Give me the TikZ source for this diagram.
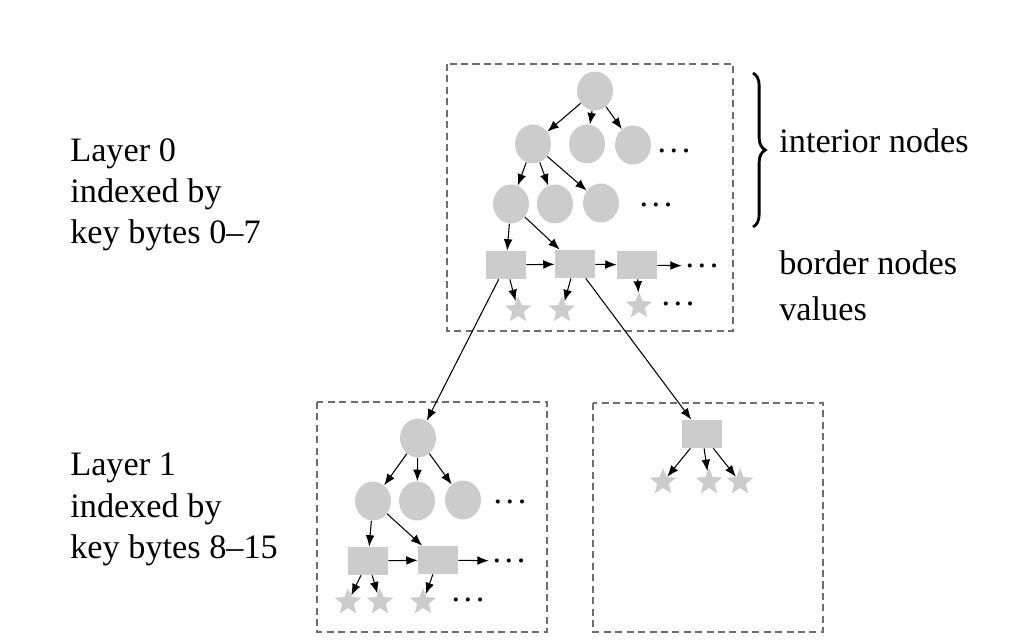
\documentclass[tikz,border=0pt]{standalone}
\usepackage{fontspec}
\setmainfont{Liberation Serif}
\usepackage{tikz}
\usetikzlibrary{arrows.meta, decorations.pathreplacing, shapes.geometric}
\definecolor{cnode}{HTML}{CCCCCC}
\definecolor{cframe}{HTML}{6E6E6E}

\begin{document}
\begin{tikzpicture}[
  x=0.02cm, y=-0.02cm,
  inode/.style={
    ellipse, fill=cnode, draw=none,
    minimum width=0.72cm, minimum height=0.78cm, inner sep=0pt
  },
  bnode/.style={
    rectangle, fill=cnode, draw=none,
    minimum width=0.8cm, minimum height=0.56cm, inner sep=0pt
  },
  vnode/.style={
    star, star points=5, star point ratio=2.3, fill=cnode, draw=none,
    minimum size=0.56cm, inner sep=0pt
  },
  dots/.style={inner sep=2pt},
  arr/.style={-{Latex[length=6.5pt, width=5pt]}, line width=0.6pt},
  layerbox/.style={dashed, draw=cframe, line width=0.6pt, dash pattern=on 4pt off 2.5pt},
  cbrace/.style={decorate, decoration={brace, amplitude=7pt}, line width=1.6pt},
  font=\fontsize{19.5}{23.4}\selectfont
]
\useasboundingbox (0,0) rectangle (1022,641);

\newcommand{\ddd}{.\kern2pt.\kern2pt.}

% ============================================================
% Layer 0: interior nodes, border nodes and values
\draw[layerbox] (447,64) rectangle (733,331);

\node[inode] (r0) at (595,91) {};
\node[inode] (a1) at (533,144) {};
\node[inode] (a2) at (587,144) {};
\node[inode] (a3) at (633,145) {};
\node[dots]  (adots) at (674,151) {\ddd};
\node[inode] (b1) at (511,204) {};
\node[inode] (b2) at (555,204) {};
\node[inode] (b3) at (601,203) {};
\node[dots]  (bdots) at (656,205) {\ddd};

\node[bnode] (p1) at (506,265) {};
\node[bnode] (p2) at (575,264) {};
\node[bnode] (p3) at (637,265) {};
\node[dots]  (pdots) at (702,266) {\ddd};

\node[vnode] (v1) at (518,310) {};
\node[vnode] (v2) at (562,310) {};
\node[vnode] (v3) at (639,306) {};
\node[dots]  (vdots) at (678,304) {\ddd};

\foreach \j in {a1,a2,a3} {
  \draw[arr] (r0) -- (\j);
}
\foreach \j in {b1,b2,b3} {
  \draw[arr] (a1) -- (\j);
}
\draw[arr] (b1) -- (p1);
\draw[arr] (b1) -- (p2);
\draw[arr] (p1) -- (p2);
\draw[arr] (p2) -- (p3);
\draw[arr] (p3) -- (pdots);
\draw[arr] (p1) -- (v1);
\draw[arr] (p2) -- (v2);
\draw[arr] (p3) -- (v3);

% brace + labels on the right
\draw[cbrace] (753,73) -- (753,227);
\node[anchor=base west, inner sep=0pt] (inlab) at (779,153) {interior nodes};
\node[anchor=north west, inner sep=0pt, align=left] (bdlab) at (779,250)
  {border nodes\\[3pt]values};

% ============================================================
% Layer 1, left subtree
\draw[layerbox] (317,402) rectangle (547,632);

\node[inode] (q0) at (418,438) {};
\node[inode] (c1) at (373,501) {};
\node[inode] (c2) at (417,501) {};
\node[inode] (c3) at (463,500) {};
\node[dots]  (cdots) at (510,502) {\ddd};

\node[bnode] (s1) at (368,561) {};
\node[bnode] (s2) at (438,560) {};
\node[dots]  (sdots) at (509,561) {\ddd};

\node[vnode] (w1) at (348,602) {};
\node[vnode] (w2) at (380,602) {};
\node[vnode] (w3) at (423,602) {};
\node[dots]  (wdots) at (468,600) {\ddd};

\foreach \j in {c1,c2,c3} {
  \draw[arr] (q0) -- (\j);
}
\draw[arr] (c1) -- (s1);
\draw[arr] (c1) -- (s2);
\draw[arr] (s1) -- (s2);
\draw[arr] (s2) -- (sdots);
\draw[arr] (s1) -- (w1);
\draw[arr] (s1) -- (w2);
\draw[arr] (s2) -- (w3);

% ============================================================
% Layer 1, right subtree (single border node)
\draw[layerbox] (593,403) rectangle (823,632);

\node[bnode] (t1) at (702,434) {};
\node[vnode] (x1) at (663,482) {};
\node[vnode] (x2) at (709,482) {};
\node[vnode] (x3) at (740,482) {};

\foreach \j in {x1,x2,x3} {
  \draw[arr] (t1) -- (\j);
}

% links from layer 0 border nodes down to layer 1
\draw[arr] (p1) -- (q0);
\draw[arr] (p2) -- (t1);

% layer labels on the left
\node[anchor=north west, inner sep=0pt, align=left] (lab0) at (70,138)
  {Layer 0\\indexed by\\key bytes 0--7};
\node[anchor=north west, inner sep=0pt, align=left] (lab1) at (70,453)
  {Layer 1\\indexed by\\key bytes 8--15};

\end{tikzpicture}
\end{document}
